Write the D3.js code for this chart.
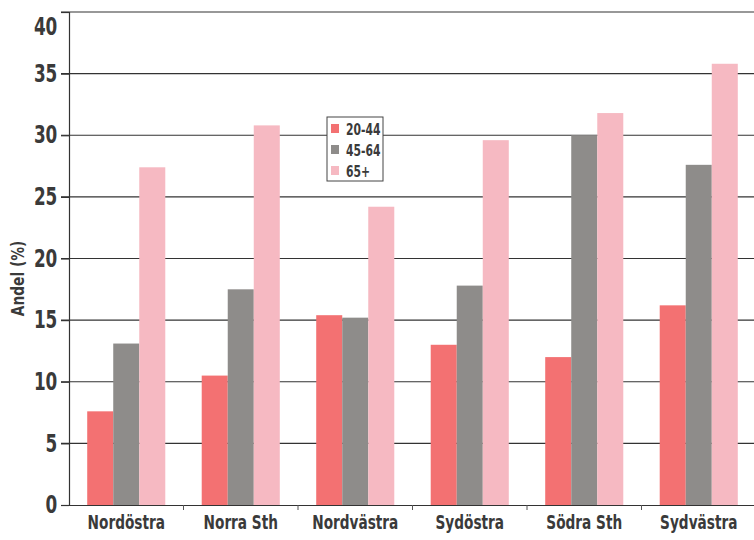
<!DOCTYPE html>
<html>
<head>
<meta charset="utf-8">
<script src="https://cdn.jsdelivr.net/npm/d3@7"></script>
<style>
  body { margin: 0; background: #fff; }
  text { font-family: "DejaVu Sans Condensed", "Liberation Sans Narrow", sans-serif; font-weight: bold; fill: #3a3a3a; }
</style>
</head>
<body>
<div id="chart"></div>
<script>
// regions (x axis)
const regions = ["Nordöstra", "Norra Sth", "Nordvästra", "Sydöstra", "Södra Sth", "Sydvästra"];
// age groups (legend)
const ageGroups = ["20-44", "45-64", "65+"];
// share (%) per age group, same order as regions
const age20to44 = [7.6, 10.5, 15.4, 13.0, 12.0, 16.2];
const age45to64 = [13.1, 17.5, 15.2, 17.8, 30.0, 27.6];
const age65plus = [27.4, 30.8, 24.2, 29.6, 31.8, 35.8];
const yTicks = [0, 5, 10, 15, 20, 25, 30, 35, 40];

const colors = ["#f37172", "#8e8c8a", "#f6b9c2"];
const seriesValues = [age20to44, age45to64, age65plus];

const width = 754, height = 540;
const margin = { top: 12, right: -2, bottom: 35, left: 69 };

const svg = d3.select("#chart").append("svg")
  .attr("width", width)
  .attr("height", height);

const y = d3.scaleLinear()
  .domain([0, 40])
  .range([height - margin.bottom, margin.top]);

const x = d3.scaleBand()
  .domain(regions)
  .range([margin.left, width - margin.right])
  .paddingInner(0)
  .paddingOuter(0);

const x1 = d3.scaleBand()
  .domain(ageGroups)
  .range([0, x.bandwidth()])
  .paddingInner(0)
  .paddingOuter(0.7);

// gridlines
svg.append("g")
  .selectAll("line")
  .data(yTicks.filter(d => d > 0))
  .join("line")
  .attr("x1", margin.left - 8)
  .attr("x2", width)
  .attr("y1", d => y(d))
  .attr("y2", d => y(d))
  .attr("stroke", "#333")
  .attr("stroke-width", 1.2);

// bars
const data = [];
regions.forEach((r, i) => {
  ageGroups.forEach((g, j) => {
    data.push({ region: r, group: g, value: seriesValues[j][i], color: colors[j] });
  });
});

svg.append("g")
  .selectAll("rect")
  .data(data)
  .join("rect")
  .attr("x", d => x(d.region) + x1(d.group))
  .attr("y", d => y(d.value))
  .attr("width", x1.bandwidth())
  .attr("height", d => y(0) - y(d.value))
  .attr("fill", d => d.color);

// y axis
const yAxis = svg.append("g")
  .attr("transform", `translate(${margin.left},0)`)
  .call(d3.axisLeft(y).tickValues(yTicks).tickSize(8).tickPadding(0));
yAxis.select(".domain").attr("stroke", "#333").attr("stroke-width", 1.2);
yAxis.selectAll(".tick line").attr("stroke", "#333").attr("stroke-width", 1.2);
yAxis.selectAll(".tick text")
  .attr("font-size", 24)
  .attr("font-family", null)
  .attr("fill", null)
  .attr("x", -15)
  .attr("dy", d => d === 40 ? "0.95em" : "0.32em")
  .attr("transform", "scale(0.78,1)");

// x axis
const xAxis = svg.append("g")
  .attr("transform", `translate(0,${y(0)})`)
  .call(d3.axisBottom(x).tickSize(0).tickPadding(11));
xAxis.select(".domain").attr("stroke", "#333").attr("stroke-width", 1.2);
xAxis.selectAll(".tick text")
  .attr("font-size", 19)
  .attr("font-family", null)
  .attr("fill", null)
  .attr("transform", "scale(0.8,1)");

// small ticks at group boundaries
svg.append("g")
  .selectAll("line")
  .data(regions.slice(1))
  .join("line")
  .attr("x1", d => x(d))
  .attr("x2", d => x(d))
  .attr("y1", y(0))
  .attr("y2", y(0) + 5)
  .attr("stroke", "#555");

// y axis title
svg.append("text")
  .attr("transform", `translate(24,${(y(0) + y(40)) / 2 + 20}) rotate(-90) scale(0.85,1)`)
  .attr("text-anchor", "middle")
  .attr("font-size", 18)
  .attr("font-weight", "normal")
  .text("Andel (%)");

// legend
const legend = svg.append("g").attr("transform", "translate(327,117)");
legend.append("rect")
  .attr("width", 56)
  .attr("height", 64)
  .attr("fill", "#fff")
  .attr("stroke", "#444")
  .attr("stroke-width", 1);
ageGroups.forEach((g, j) => {
  legend.append("rect")
    .attr("x", 4)
    .attr("y", 7 + j * 21)
    .attr("width", 8)
    .attr("height", 9)
    .attr("fill", colors[j]);
  legend.append("text")
    .attr("transform", `translate(19,${18 + j * 21}) scale(0.8,1)`)
    .attr("font-size", 15)
    .text(g);
});
</script>
</body>
</html>
